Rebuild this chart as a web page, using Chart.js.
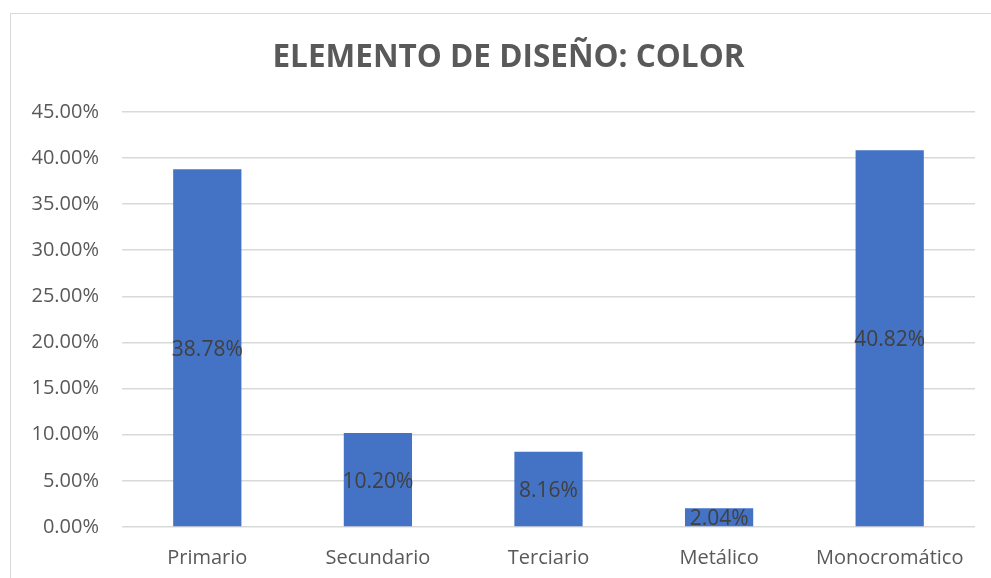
<!DOCTYPE html>
<html>
<head>
<meta charset="utf-8">
<script src="https://cdn.jsdelivr.net/npm/chart.js@4"></script>
<style>
  html, body { margin: 0; padding: 0; background: #fff; overflow: hidden; }
  #frame {
    position: absolute; left: 10px; top: 13px;
    width: 995px; height: 600px;
    border: 1px solid #d9d9d9;
  }
  #wrap { position: absolute; left: 0; top: 0; width: 995px; height: 564px; }
</style>
</head>
<body>
<div id="frame"><div id="wrap"><canvas id="colorChart"></canvas></div></div>
<script>
// Elemento de diseño: color

const categories = ['Primario', 'Secundario', 'Terciario', 'Metálico', 'Monocromático'];
const percentages = [38.78, 10.20, 8.16, 2.04, 40.82];
const yTicks = [0, 5, 10, 15, 20, 25, 30, 35, 40, 45];

const FONT = '"Open Sans", sans-serif';

// draws the value in the middle of each bar, like the Excel labels
const centerLabels = {
    id: 'centerLabels',
    afterDatasetsDraw(chart) {
        const ctx = chart.ctx;
        const meta = chart.getDatasetMeta(0);
        ctx.save();
        ctx.font = '21px ' + FONT;
        ctx.fillStyle = '#404040';
        ctx.textAlign = 'center';
        ctx.textBaseline = 'middle';
        meta.data.forEach((bar, i) => {
            const mid = (bar.y + bar.base) / 2 + 2;
            ctx.fillText(percentages[i].toFixed(2) + '%', bar.x, mid);
        });
        ctx.restore();
    }
};

const ctx = document.getElementById('colorChart').getContext('2d');

new Chart(ctx, {
    type: 'bar',
    data: {
        labels: categories,
        datasets: [{
            data: percentages,
            backgroundColor: '#4472C4',
            categoryPercentage: 1,
            barPercentage: 0.4
        }]
    },
    options: {
        responsive: true,
        maintainAspectRatio: false,
        animation: false,
        plugins: {
            legend: { display: false },
            tooltip: { enabled: false },
            title: {
                display: true,
                text: 'ELEMENTO DE DISEÑO: COLOR',
                color: '#595959',
                font: { family: FONT, size: 31.5, weight: 'bold', lineHeight: 1.2 },
                padding: { top: 25, bottom: 35 }
            }
        },
        scales: {
            x: {
                grid: { display: false, drawTicks: false },
                border: { display: false },
                ticks: {
                    color: '#595959',
                    font: { family: FONT, size: 20 },
                    padding: 19,
                    maxRotation: 0
                },
                afterFit(scale) { scale.height = 51; }
            },
            y: {
                min: 0,
                max: 45,
                afterBuildTicks(scale) {
                    scale.ticks = yTicks.map(v => ({ value: v }));
                },
                grid: { color: '#d9d9d9', lineWidth: 1.5, drawTicks: false },
                border: { display: false },
                ticks: {
                    color: '#595959',
                    font: { family: FONT, size: 20 },
                    padding: 23,
                    callback: v => v.toFixed(2) + '%'
                },
                afterFit(scale) { scale.width = 111; }
            },
            // empty right-hand space so the title stays centred on the whole chart
            spacer: {
                type: 'linear',
                position: 'right',
                grid: { display: false, drawTicks: false },
                border: { display: false },
                ticks: { display: false },
                afterFit(scale) { scale.width = 31; }
            }
        }
    },
    plugins: [centerLabels]
});
</script>
</body>
</html>
